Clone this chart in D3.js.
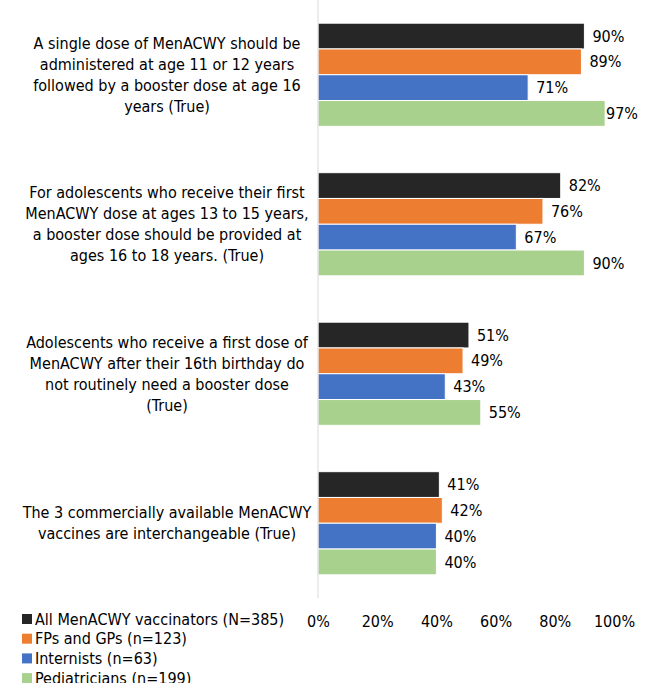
<!DOCTYPE html>
<html>
<head>
<meta charset="utf-8">
<script src="https://cdn.jsdelivr.net/npm/d3@7"></script>
<style>
  body { margin: 0; background: #fff; overflow: hidden; }
  text { font-family: "DejaVu Sans Condensed", "DejaVu Sans", sans-serif; fill: #000; }
</style>
</head>
<body>
<div id="chart"></div>
<script>
// categories (label lines), series and values in %
var categories = ["q1", "q2", "q3", "q4"];
var catLines = [
  ["A single dose of MenACWY should be", "administered at age 11 or 12 years", "followed by a booster dose at age 16", "years (True)"],
  ["For adolescents who receive their first", "MenACWY dose at ages 13 to 15 years,", "a booster dose should be provided at", "ages 16 to 18 years. (True)"],
  ["Adolescents who receive a first dose of", "MenACWY after their 16th birthday do", "not routinely need a booster dose", "(True)"],
  ["The 3 commercially available MenACWY", "vaccines are interchangeable (True)"]
];
var seriesNames = ["All MenACWY vaccinators (N=385)", "FPs and GPs (n=123)", "Internists (n=63)", "Pediatricians (n=199)"];
var seriesColors = ["#262626", "#ED7D31", "#4472C4", "#A9D18E"];
var allVals = [90, 82, 51, 41];
var fpVals = [89, 76, 49, 42];
var intVals = [71, 67, 43, 40];
var pedVals = [97, 90, 55, 40];
var tickVals = [0, 20, 40, 60, 80, 100];

var seriesVals = [allVals, fpVals, intVals, pedVals];

var width = 655, height = 683;
var plot = {left: 318, right: 614, top: 0, bottom: 598};
var fs = "16px";

var svg = d3.select("#chart").append("svg")
  .attr("width", width)
  .attr("height", height);

var xScale = d3.scaleLinear().domain([0, 100]).range([plot.left, plot.right]);
var yScale = d3.scaleBand().domain(categories).range([plot.top, plot.bottom])
  .paddingInner(0.31).paddingOuter(0.155);
var ySub = d3.scaleBand().domain(d3.range(seriesNames.length)).range([0, yScale.bandwidth()]);

// bars
var groups = svg.selectAll("g.grp")
  .data(categories)
  .enter().append("g")
  .attr("class", "grp")
  .attr("transform", function (d) { return "translate(0," + yScale(d) + ")"; });

groups.each(function (c, ci) {
  var g = d3.select(this);
  seriesVals.forEach(function (vals, si) {
    g.append("rect")
      .attr("x", xScale(0))
      .attr("y", ySub(si))
      .attr("width", xScale(vals[ci]) - xScale(0))
      .attr("height", ySub.bandwidth())
      .attr("fill", seriesColors[si])
      .attr("stroke", "#fff")
      .attr("stroke-width", 1);
    // label sits right of the bar, kept inside the chart
    var lx = Math.min(xScale(vals[ci]) + 8, 606);
    g.append("text")
      .attr("x", lx)
      .attr("y", ySub(si) + ySub.bandwidth() / 2)
      .attr("dy", "0.35em")
      .style("font-size", fs)
      .text(vals[ci] + "%");
  });

  // category label
  var lines = catLines[ci];
  var lh = 21;
  var cy = yScale.bandwidth() / 2;
  var t = g.append("text")
    .attr("text-anchor", "middle")
    .style("font-size", fs);
  lines.forEach(function (ln, li) {
    t.append("tspan")
      .attr("x", 167)
      .attr("y", cy + (li - (lines.length - 1) / 2) * lh)
      .attr("dy", "0.35em")
      .text(ln);
  });
});

// vertical axis line
svg.append("line")
  .attr("x1", xScale(0)).attr("x2", xScale(0))
  .attr("y1", plot.top).attr("y2", plot.bottom)
  .attr("stroke", "#d9d9d9")
  .attr("stroke-width", 1);

// x tick labels
var xAxis = svg.append("g")
  .attr("transform", "translate(0,621)")
  .call(d3.axisBottom(xScale).tickValues(tickVals).tickSize(0).tickPadding(0)
    .tickFormat(function (d) { return d + "%"; }));
xAxis.select(".domain").remove();
xAxis.selectAll("text")
  .attr("y", 0)
  .attr("dy", "0.35em")
  .style("font-size", fs)
  .style("font-family", "DejaVu Sans Condensed, DejaVu Sans, sans-serif")
  .attr("fill", "#000");

// legend
var legend = svg.selectAll("g.leg")
  .data(seriesNames)
  .enter().append("g")
  .attr("class", "leg")
  .attr("transform", function (d, i) { return "translate(22," + (619 + i * 19.7) + ")"; });
legend.append("rect")
  .attr("x", 0).attr("y", -5)
  .attr("width", 10).attr("height", 10)
  .attr("fill", function (d, i) { return seriesColors[i]; });
legend.append("text")
  .attr("x", 13)
  .attr("dy", "0.35em")
  .style("font-size", fs)
  .text(function (d) { return d; });
</script>
</body>
</html>
